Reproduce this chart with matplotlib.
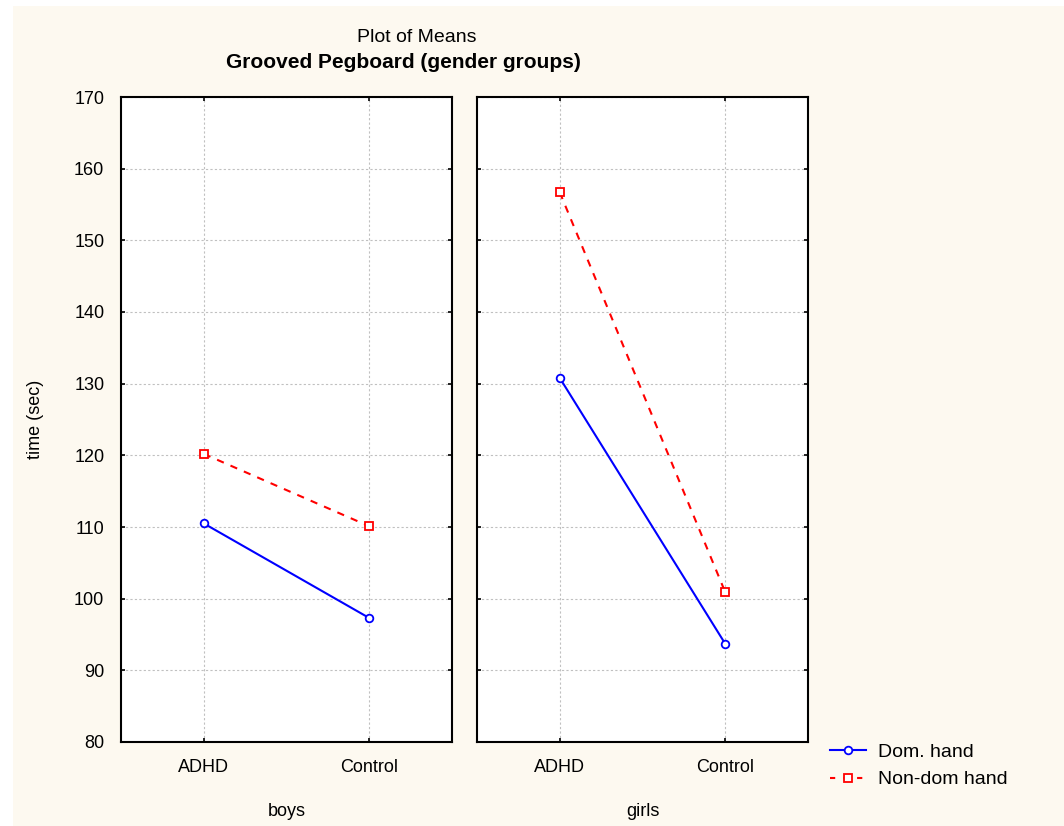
import matplotlib.pyplot as plt
import matplotlib as mpl
from matplotlib.patches import Rectangle
from matplotlib.lines import Line2D

mpl.rcParams['font.family'] = ['Liberation Sans', 'DejaVu Sans']

groups = ['ADHD', 'Control']
panels = ['boys', 'girls']
dom_hand = {'boys': [110.5, 97.3], 'girls': [130.8, 93.7]}
nondom_hand = {'boys': [120.2, 110.1], 'girls': [156.7, 100.9]}
yticks = [80, 90, 100, 110, 120, 130, 140, 150, 160, 170]

W, H = 1064, 826
fig = plt.figure(figsize=(W / 100, H / 100), dpi=100)
fig.patch.set_facecolor('white')
fig.patches.append(Rectangle((13 / W, 0), 1 - 13 / W, 1 - 6 / H, transform=fig.transFigure,
                             facecolor='#fdf9f0', edgecolor='none', zorder=-10))

bottom = 1 - 742 / H
height = (742 - 97) / H
lefts = [121, 477]
width = 331

blue_style = dict(color='#0000ff', lw=1.5, marker='o', ms=5.5, mfc='white', mec='#0000ff', mew=1.3)
red_style = dict(color='#ff0000', lw=1.5, ls=(0, (3.5, 3.5)), marker='s', ms=5.5,
                 mfc='white', mec='#ff0000', mew=1.3)

for i, name in enumerate(panels):
    ax = fig.add_axes([lefts[i] / W, bottom, width / W, height])
    ax.set_facecolor('white')
    x = list(range(len(groups)))
    ax.plot(x, dom_hand[name], zorder=3, **blue_style)
    ax.plot(x, nondom_hand[name], zorder=3, **red_style)
    ax.set_xlim(-0.5, 1.5)
    ax.set_ylim(80, 170)
    ax.set_yticks(yticks)
    ax.set_xticks(x)
    ax.set_xticklabels(groups)
    ax.grid(True, color='#c0c0c0', ls=(0, (2, 2)), lw=0.8)
    ax.set_axisbelow(True)
    ax.tick_params(direction='in', length=3, width=1.2, labelsize=13, pad=12,
                   top=True, right=True)
    for s in ax.spines.values():
        s.set_linewidth(1.5)
    ax.set_xlabel(name, fontsize=13, labelpad=20)
    if i == 0:
        ax.set_ylabel('time (sec)', fontsize=13, labelpad=22)
    else:
        ax.tick_params(axis='y', labelleft=False)

fig.text(417 / W, 1 - 37 / H, 'Plot of Means', ha='center', va='center', fontsize=14)
fig.text(403 / W, 1 - 63 / H, 'Grooved Pegboard (gender groups)', ha='center', va='center',
         fontsize=15, fontweight='bold')

handles = [Line2D([], [], **blue_style),
           Line2D([], [], **dict(red_style, ls=(0, (2.5, 4))))]
fig.legend(handles, ['Dom. hand', 'Non-dom hand'], loc='upper left',
           bbox_to_anchor=(812 / W, 1 - 726 / H), frameon=False, fontsize=14,
           handlelength=1.9, handletextpad=0.6, labelspacing=0.5)

fig.savefig('out.png', dpi=100, facecolor=fig.get_facecolor())
